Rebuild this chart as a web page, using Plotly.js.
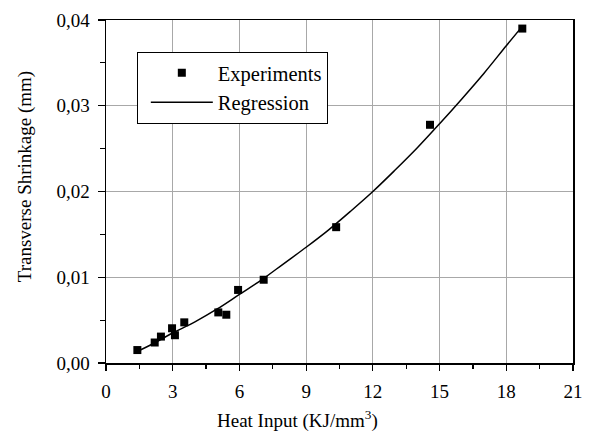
<!DOCTYPE html>
<html>
<head>
<meta charset="utf-8">
<script src="https://cdn.plot.ly/plotly-3.0.1.min.js"></script>
<style>html,body{margin:0;padding:0;background:#fff;}#chart{width:594px;height:447px;}</style>
</head>
<body>
<div id="chart"></div>
<script>
// Experimental points
const expX = [1.41, 2.19, 2.47, 2.97, 3.10, 3.52, 5.05, 5.41, 5.94, 7.09, 10.35, 14.57, 18.72];
const expY = [0.00151, 0.00239, 0.00308, 0.00405, 0.00324, 0.00474, 0.00590, 0.00563, 0.00852, 0.00971, 0.01584, 0.02778, 0.03900];
// Regression curve
const regX = [1.45, 2, 3, 4, 5, 6, 7, 8, 9, 10, 11, 12, 13, 14, 15, 16, 17, 18, 18.7];
const regY = [0.0014, 0.0021, 0.0035, 0.0048, 0.0063, 0.0080, 0.0097, 0.0116, 0.0135, 0.0155, 0.0177, 0.0200, 0.0225, 0.0251, 0.0279, 0.0308, 0.0338, 0.0370, 0.0392];
const xTicks = [0, 3, 6, 9, 12, 15, 18, 21];
const yTicks = [0, 0.01, 0.02, 0.03, 0.04];
const legendNames = ['Experiments', 'Regression'];
const xTitle = 'Heat Input (KJ/mm<sup>3</sup>)';
const yTitle = 'Transverse Shrinkage (mm)';

const FONT = '"Liberation Serif", serif';
const traces = [
  {x: expX, y: expY, type: 'scatter', mode: 'markers', name: legendNames[0],
   marker: {symbol: 'square', size: 8, color: '#000'}},
  {x: regX, y: regY, type: 'scatter', mode: 'lines', name: legendNames[1],
   line: {color: '#000', width: 1.5, shape: 'spline'}}
];
const layout = {
  width: 594, height: 447,
  margin: {l: 106, r: 21, t: 20, b: 84},
  paper_bgcolor: '#fff', plot_bgcolor: '#fff',
  separators: ',.',
  font: {family: FONT, size: 19, color: '#000'},
  showlegend: true,
  legend: {x: 0.066, y: 0.907, xanchor: 'left', yanchor: 'top',
    bgcolor: '#fff', bordercolor: '#000', borderwidth: 1,
    font: {family: FONT, size: 20.5, color: '#000'}, itemwidth: 62, indentation: 8, tracegroupgap: 0},
  xaxis: {range: [0, 21], tickvals: xTicks, ticktext: xTicks.map(String),
    showline: true, linecolor: '#000', linewidth: 1.5, mirror: true,
    ticks: 'outside', ticklen: 6, tickwidth: 1.2, tickcolor: '#000',
    showgrid: true, gridcolor: '#a8a8a8', gridwidth: 1, zeroline: false,
    minor: {tickvals: [1.5, 4.5, 7.5, 10.5, 13.5, 16.5, 19.5], ticks: 'outside', ticklen: 4, tickcolor: '#000', showgrid: false},
    tickfont: {family: FONT, size: 19}, ticklabelstandoff: 5},
  yaxis: {range: [0, 0.04], tickvals: yTicks, tickformat: '.2f',
    showline: true, linecolor: '#000', linewidth: 1.5, mirror: true,
    ticks: 'outside', ticklen: 7, tickwidth: 1.2, tickcolor: '#000',
    showgrid: true, gridcolor: '#a8a8a8', gridwidth: 1, zeroline: false,
    minor: {tickvals: [0.005, 0.015, 0.025, 0.035], ticks: 'outside', ticklen: 5, tickcolor: '#000', showgrid: false},
    tickfont: {family: FONT, size: 19}, ticklabelstandoff: 4},
  xaxis2: {range: [0, 21], overlaying: 'x', side: 'top', anchor: 'y',
    tickmode: 'linear', tick0: 0, dtick: 1.5, ticks: 'inside', ticklen: 4, tickwidth: 1.2, tickcolor: '#000',
    showticklabels: false, showgrid: false, zeroline: false, showline: false},
  yaxis2: {range: [0, 0.04], overlaying: 'y', side: 'right', anchor: 'x',
    tickmode: 'linear', tick0: 0, dtick: 0.005, ticks: 'inside', ticklen: 4, tickwidth: 1.2, tickcolor: '#000',
    showticklabels: false, showgrid: false, zeroline: false, showline: false},
  annotations: [
    {text: xTitle, xref: 'paper', yref: 'paper', x: 0.409, y: -0.164, xanchor: 'center', yanchor: 'middle',
     showarrow: false, font: {family: FONT, size: 19}},
    {text: yTitle, xref: 'paper', yref: 'paper', x: -0.173, y: 0.542, xanchor: 'center', yanchor: 'middle',
     textangle: -90, showarrow: false, font: {family: FONT, size: 19}}
  ]
};
Plotly.newPlot('chart', traces, layout, {staticPlot: true, displayModeBar: false});
</script>
</body>
</html>
